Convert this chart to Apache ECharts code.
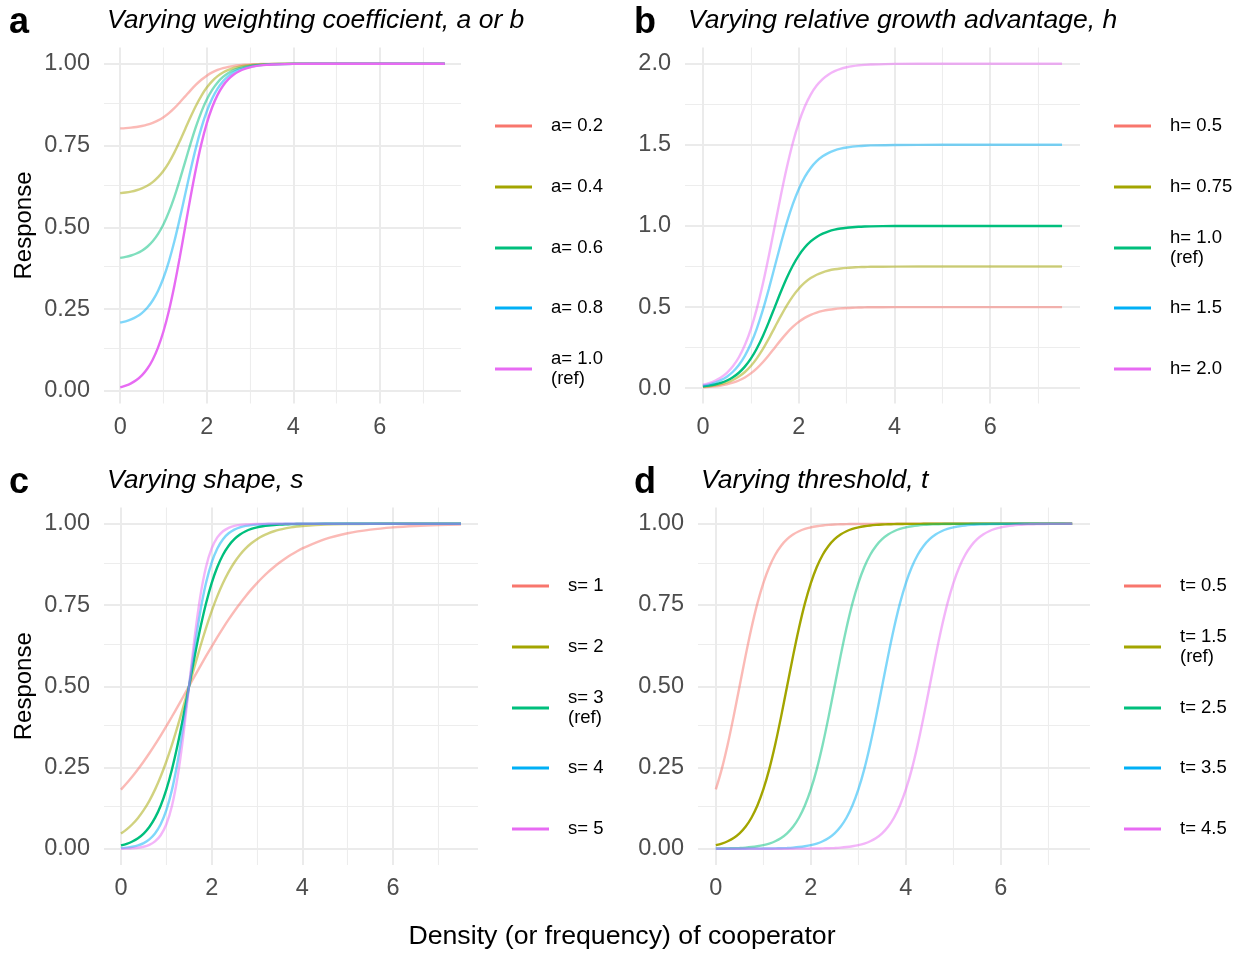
<!DOCTYPE html>
<html><head><meta charset="utf-8">
<script src="https://cdn.jsdelivr.net/npm/echarts@6/dist/echarts.min.js"></script>
<style>html,body{margin:0;padding:0;background:#fff}#c{width:1244px;height:954px}</style>
</head><body><div id="c"></div>
<script>
const FF = '"Liberation Sans", Arial, Helvetica, sans-serif';
const colors = ['#F8766D','#A3A500','#00BF7D','#00B0F6','#E76BF3'];
const xTicks = [0,2,4,6];
const xMinor = [1,3,5,7];
const yTicks1 = [0,0.25,0.5,0.75,1];
const yMinor1 = [0.125,0.375,0.625,0.875];
const yTicksB = [0,0.5,1,1.5,2];
const yMinorB = [0.25,0.75,1.25,1.75];

// x positions (density) sampled for each panel
const xsAB = [0,0.125,0.25,0.375,0.5,0.625,0.75,0.875,1,1.125,1.25,1.375,1.5,1.625,1.75,1.875,2,2.125,2.25,2.375,2.5,2.625,2.75,2.875,3,3.125,3.25,3.375,3.5,4,5,6,7.5];
const xsC = [0,0.125,0.25,0.375,0.5,0.625,0.75,0.875,1,1.125,1.25,1.375,1.5,1.625,1.75,1.875,2,2.125,2.25,2.375,2.5,2.625,2.75,2.875,3,3.125,3.25,3.375,3.5,3.625,3.75,3.875,4,4.5,5,5.5,6,6.5,7,7.5];
const xsD = [0,0.125,0.25,0.375,0.5,0.625,0.75,0.875,1,1.125,1.25,1.375,1.5,1.625,1.75,1.875,2,2.125,2.25,2.375,2.5,2.625,2.75,2.875,3,3.125,3.25,3.375,3.5,3.625,3.75,3.875,4,4.125,4.25,4.375,4.5,4.625,4.75,4.875,5,5.125,5.25,5.375,5.5,5.625,5.75,5.875,6,6.125,6.25,6.375,6.5,6.625,6.75,6.875,7,7.125,7.25,7.375,7.5];

// panel a
const aNames = ['a= 0.2','a= 0.4','a= 0.6','a= 0.8','a= 1.0 (ref)'];
const aY02 = [0.8022,0.8032,0.8046,0.8066,0.8095,0.8135,0.8191,0.8266,0.8365,0.8490,0.8642,0.8815,0.9000,0.9185,0.9358,0.9510,0.9635,0.9734,0.9809,0.9865,0.9905,0.9934,0.9954,0.9968,0.9978,0.9985,0.9990,0.9993,0.9995,0.9999,1,1,1];
const aY04 = [0.6044,0.6064,0.6092,0.6132,0.6190,0.6270,0.6382,0.6532,0.6730,0.6980,0.7283,0.7629,0.8000,0.8371,0.8717,0.9020,0.9270,0.9468,0.9619,0.9730,0.9810,0.9868,0.9908,0.9936,0.9956,0.9970,0.9979,0.9986,0.9990,0.9998,1,1,1];
const aY06 = [0.4066,0.4095,0.4138,0.4199,0.4284,0.4406,0.4572,0.4798,0.5094,0.5471,0.5925,0.6444,0.7000,0.7556,0.8075,0.8529,0.8906,0.9202,0.9428,0.9595,0.9716,0.9801,0.9862,0.9905,0.9934,0.9954,0.9969,0.9978,0.9985,0.9997,1,1,1];
const aY08 = [0.2088,0.2127,0.2184,0.2265,0.2379,0.2541,0.2763,0.3064,0.3459,0.3961,0.4566,0.5258,0.6000,0.6742,0.7434,0.8039,0.8541,0.8936,0.9238,0.9460,0.9621,0.9735,0.9816,0.9873,0.9912,0.9939,0.9958,0.9971,0.9980,0.9996,1,1,1];
const aY10 = [0.0110,0.0159,0.0230,0.0331,0.0474,0.0676,0.0954,0.1330,0.1824,0.2451,0.3208,0.4073,0.5000,0.5927,0.6792,0.7549,0.8176,0.8670,0.9047,0.9325,0.9526,0.9669,0.9770,0.9841,0.9890,0.9924,0.9948,0.9964,0.9975,0.9995,1,1,1];

// panel b
const bNames = ['h= 0.5','h= 0.75','h= 1.0 (ref)','h= 1.5','h= 2.0'];
const bH05 = [0.0055,0.0080,0.0115,0.0165,0.0237,0.0338,0.0477,0.0665,0.0912,0.1225,0.1604,0.2037,0.2500,0.2963,0.3396,0.3775,0.4088,0.4335,0.4523,0.4662,0.4763,0.4835,0.4885,0.4920,0.4945,0.4962,0.4974,0.4982,0.4988,0.4997,0.5,0.5,0.5];
const bH075 = [0.0082,0.0119,0.0172,0.0248,0.0356,0.0507,0.0716,0.0998,0.1368,0.1838,0.2406,0.3055,0.3750,0.4445,0.5094,0.5662,0.6132,0.6503,0.6785,0.6994,0.7145,0.7252,0.7328,0.7381,0.7418,0.7443,0.7461,0.7473,0.7481,0.7496,0.75,0.75,0.75];
const bH10 = [0.0110,0.0159,0.0230,0.0331,0.0474,0.0676,0.0954,0.1330,0.1824,0.2451,0.3208,0.4073,0.5000,0.5927,0.6792,0.7549,0.8176,0.8670,0.9047,0.9325,0.9526,0.9669,0.9770,0.9841,0.9890,0.9924,0.9948,0.9964,0.9975,0.9995,1,1,1];
const bH15 = [0.0165,0.0239,0.0345,0.0497,0.0711,0.1014,0.1431,0.1995,0.2736,0.3677,0.4812,0.6110,0.7500,0.8891,1.0188,1.1324,1.2264,1.3005,1.3570,1.3988,1.4289,1.4504,1.4655,1.4762,1.4835,1.4886,1.4922,1.4946,1.4963,1.4993,1.5,1.5,1.5];
const bH20 = [0.0220,0.0318,0.0460,0.0662,0.0948,0.1352,0.1908,0.2660,0.3648,0.4902,0.6416,0.8146,1.0000,1.1854,1.3584,1.5098,1.6352,1.7340,1.8094,1.8650,1.9052,1.9338,1.9540,1.9682,1.9780,1.9848,1.9896,1.9928,1.9950,1.9990,2,2,2];

// panel c
const cNames = ['s= 1','s= 2','s= 3 (ref)','s= 4','s= 5'];
const cS1 = [0.1824,0.2018,0.2227,0.2451,0.2689,0.2942,0.3208,0.3486,0.3775,0.4073,0.4378,0.4688,0.5000,0.5312,0.5622,0.5927,0.6225,0.6514,0.6792,0.7058,0.7311,0.7549,0.7773,0.7982,0.8176,0.8355,0.8520,0.8670,0.8808,0.8933,0.9047,0.9149,0.9241,0.9526,0.9707,0.9820,0.9890,0.9933,0.9959,0.9975];
const cS2 = [0.0474,0.0601,0.0759,0.0954,0.1192,0.1480,0.1824,0.2227,0.2689,0.3208,0.3775,0.4378,0.5000,0.5622,0.6225,0.6792,0.7311,0.7773,0.8176,0.8520,0.8808,0.9047,0.9241,0.9399,0.9526,0.9627,0.9707,0.9770,0.9820,0.9859,0.9890,0.9914,0.9933,0.9975,0.9991,0.9997,0.9999,0.9999,1,1];
const cS3 = [0.0110,0.0159,0.0230,0.0331,0.0474,0.0676,0.0954,0.1330,0.1824,0.2451,0.3208,0.4073,0.5000,0.5927,0.6792,0.7549,0.8176,0.8670,0.9047,0.9325,0.9526,0.9669,0.9770,0.9841,0.9890,0.9924,0.9948,0.9964,0.9975,0.9983,0.9988,0.9992,0.9995,0.9999,1,1,1,1,1,1];
const cS4 = [0.0025,0.0041,0.0067,0.0110,0.0180,0.0293,0.0474,0.0759,0.1192,0.1824,0.2689,0.3775,0.5000,0.6225,0.7311,0.8176,0.8808,0.9241,0.9526,0.9707,0.9820,0.9890,0.9933,0.9959,0.9975,0.9985,0.9991,0.9995,0.9997,0.9998,0.9999,0.9999,1,1,1,1,1,1,1,1];
const cS5 = [0.0006,0.0010,0.0019,0.0036,0.0067,0.0124,0.0230,0.0421,0.0759,0.1330,0.2227,0.3486,0.5000,0.6514,0.7773,0.8670,0.9241,0.9579,0.9770,0.9876,0.9933,0.9964,0.9981,0.9990,0.9995,0.9997,0.9998,0.9999,1,1,1,1,1,1,1,1,1,1,1,1];

// panel d
const dNames = ['t= 0.5','t= 1.5 (ref)','t= 2.5','t= 3.5','t= 4.5'];
const dT05 = [0.1824,0.2451,0.3208,0.4073,0.5000,0.5927,0.6792,0.7549,0.8176,0.8670,0.9047,0.9325,0.9526,0.9669,0.9770,0.9841,0.9890,0.9924,0.9948,0.9964,0.9975,0.9983,0.9988,0.9992,0.9995,0.9996,0.9997,0.9998,0.9999,1,1,1,1,1,1,1,1,1,1,1,1,1,1,1,1,1,1,1,1,1,1,1,1,1,1,1,1,1,1,1,1];
const dT15 = [0.0110,0.0159,0.0230,0.0331,0.0474,0.0676,0.0954,0.1330,0.1824,0.2451,0.3208,0.4073,0.5000,0.5927,0.6792,0.7549,0.8176,0.8670,0.9047,0.9325,0.9526,0.9669,0.9770,0.9841,0.9890,0.9924,0.9948,0.9964,0.9975,0.9983,0.9988,0.9992,0.9995,0.9996,0.9997,0.9998,0.9999,1,1,1,1,1,1,1,1,1,1,1,1,1,1,1,1,1,1,1,1,1,1,1,1];
const dT25 = [0.0006,0.0008,0.0012,0.0017,0.0025,0.0036,0.0052,0.0076,0.0110,0.0159,0.0230,0.0331,0.0474,0.0676,0.0954,0.1330,0.1824,0.2451,0.3208,0.4073,0.5000,0.5927,0.6792,0.7549,0.8176,0.8670,0.9047,0.9325,0.9526,0.9669,0.9770,0.9841,0.9890,0.9924,0.9948,0.9964,0.9975,0.9983,0.9988,0.9992,0.9995,0.9996,0.9997,0.9998,0.9999,1,1,1,1,1,1,1,1,1,1,1,1,1,1,1,1];
const dT35 = [0,0,0,0,0.0001,0.0002,0.0003,0.0004,0.0006,0.0008,0.0012,0.0017,0.0025,0.0036,0.0052,0.0076,0.0110,0.0159,0.0230,0.0331,0.0474,0.0676,0.0954,0.1330,0.1824,0.2451,0.3208,0.4073,0.5000,0.5927,0.6792,0.7549,0.8176,0.8670,0.9047,0.9325,0.9526,0.9669,0.9770,0.9841,0.9890,0.9924,0.9948,0.9964,0.9975,0.9983,0.9988,0.9992,0.9995,0.9996,0.9997,0.9998,0.9999,1,1,1,1,1,1,1,1];
const dT45 = [0,0,0,0,0,0,0,0,0,0,0,0,0.0001,0.0002,0.0003,0.0004,0.0006,0.0008,0.0012,0.0017,0.0025,0.0036,0.0052,0.0076,0.0110,0.0159,0.0230,0.0331,0.0474,0.0676,0.0954,0.1330,0.1824,0.2451,0.3208,0.4073,0.5000,0.5927,0.6792,0.7549,0.8176,0.8670,0.9047,0.9325,0.9526,0.9669,0.9770,0.9841,0.9890,0.9924,0.9948,0.9964,0.9975,0.9983,0.9988,0.9992,0.9995,0.9996,0.9997,0.9998,0.9999];

const panels = [
  {tag:'a', title:'Varying weighting coefficient, a or b', xs:xsAB, names:aNames, vals:[aY02,aY04,aY06,aY08,aY10], ref:4,
   yTicks:yTicks1, yMinor:yMinor1, yMin:-0.0385, yMax:1.0495, dec:2, box:{left:104, top:47.5, width:357, height:356},
   legendLeft:495, rowOff:0, yName:true, tagLeft:9, tagTop:5, titleLeft:107, titleTop:7},
  {tag:'b', title:'Varying relative growth advantage, h', xs:xsAB, names:bNames, vals:[bH05,bH075,bH10,bH15,bH20], ref:2,
   yTicks:yTicksB, yMinor:yMinorB, yMin:-0.0942, yMax:2.0997, dec:1, box:{left:685, top:47.5, width:395, height:356},
   legendLeft:1114, rowOff:0, yName:false, tagLeft:634, tagTop:5, titleLeft:688, titleTop:7},
  {tag:'c', title:'Varying shape, s', xs:xsC, names:cNames, vals:[cS1,cS2,cS3,cS4,cS5], ref:2,
   yTicks:yTicks1, yMinor:yMinor1, yMin:-0.0494, yMax:1.05, dec:2, box:{left:104, top:507.5, width:374, height:357.5},
   legendLeft:512, rowOff:460, yName:true, tagLeft:9, tagTop:465, titleLeft:107, titleTop:467},
  {tag:'d', title:'Varying threshold, t', xs:xsD, names:dNames, vals:[dT05,dT15,dT25,dT35,dT45], ref:1,
   yTicks:yTicks1, yMinor:yMinor1, yMin:-0.05, yMax:1.05, dec:2, box:{left:698, top:507.5, width:392, height:357.5},
   legendLeft:1124, rowOff:460, yName:false, tagLeft:634, tagTop:465, titleLeft:701, titleTop:467}
];
const legendRows = [126,187,248,308,369];

const option = {animation:false, backgroundColor:'#fff', textStyle:{fontFamily:FF},
  title:[], grid:[], xAxis:[], yAxis:[], series:[], legend:[]};

const majorLS = {color:'#EBEBEB', width:2, type:'solid'};
const minorLS = {color:'#EDEDED', width:1.1, type:'solid'};

panels.forEach((p, pi) => {
  option.title.push({text:p.tag, left:p.tagLeft, top:p.tagTop, padding:0,
    textStyle:{fontFamily:FF, fontSize:36, fontWeight:'bold', color:'#000'}});
  option.title.push({text:p.title, left:p.titleLeft, top:p.titleTop, padding:0,
    textStyle:{fontFamily:FF, fontSize:26.5, fontStyle:'italic', fontWeight:'normal', color:'#000'}});
  option.grid.push({left:p.box.left, top:p.box.top, width:p.box.width, height:p.box.height, containLabel:false});
  option.xAxis.push({type:'value', gridIndex:pi, min:-0.375, max:7.875,
    axisLine:{show:false}, axisTick:{show:false}, splitLine:{show:false}, minorSplitLine:{show:false},
    axisLabel:{customValues:xTicks, formatter:v=>String(v), fontFamily:FF, fontSize:23.5, color:'#4D4D4D', margin:12}});
  option.yAxis.push({type:'value', gridIndex:pi, min:p.yMin, max:p.yMax,
    axisLine:{show:false}, axisTick:{show:false}, splitLine:{show:false},
    axisLabel:{customValues:p.yTicks, formatter:v=>Number(v).toFixed(p.dec), fontFamily:FF, fontSize:23.5, color:'#4D4D4D', margin:14, padding:[6,0,0,0]},
    name:p.yName ? 'Response' : '', nameLocation:'middle', nameGap:68,
    nameTextStyle:{fontFamily:FF, fontSize:24, color:'#000'}});
  const ml = [];
  p.yMinor.forEach(v => ml.push({yAxis:v, lineStyle:minorLS}));
  xMinor.forEach(v => ml.push({xAxis:v, lineStyle:minorLS}));
  p.yTicks.forEach(v => ml.push({yAxis:v, lineStyle:majorLS}));
  xTicks.forEach(v => ml.push({xAxis:v, lineStyle:majorLS}));
  option.series.push({type:'line', name:'grid' + pi, xAxisIndex:pi, yAxisIndex:pi, data:[], silent:true, z:1,
    markLine:{silent:true, z:1, symbol:['none','none'], label:{show:false}, animation:false,
      emphasis:{disabled:true}, data:ml}});
  p.vals.forEach((vals, si) => {
    const name = p.names[si];
    const isRef = si === p.ref;
    option.series.push({type:'line', name:name, xAxisIndex:pi, yAxisIndex:pi,
      data:p.xs.map((x, i) => [x, vals[i]]), showSymbol:false, symbol:'none', smooth:0.3,
      color:colors[si], lineStyle:{width:2.4, color:colors[si], opacity:isRef ? 1 : 0.5},
      z:3, emphasis:{disabled:true}});
    option.legend.push({data:[name], left:p.legendLeft, top:legendRows[si] + p.rowOff - (isRef ? 20 : 10),
      orient:'vertical', padding:0, itemWidth:37, itemHeight:3, icon:'rect', selectedMode:false,
      itemStyle:{opacity:1, borderWidth:0},
      formatter:n => n.replace(' (ref)', '\n(ref)'),
      textStyle:{fontFamily:FF, fontSize:18.5, color:'#000', lineHeight:20, padding:[0,0,0,14]}});
  });
});
option.title.push({text:'Density (or frequency) of cooperator', left:'center', top:923.5, padding:0,
  textStyle:{fontFamily:FF, fontSize:26.7, fontWeight:'normal', color:'#000'}});

const chart = echarts.init(document.getElementById('c'), null, {renderer:'canvas'});
chart.setOption(option);
</script>
</body></html>
